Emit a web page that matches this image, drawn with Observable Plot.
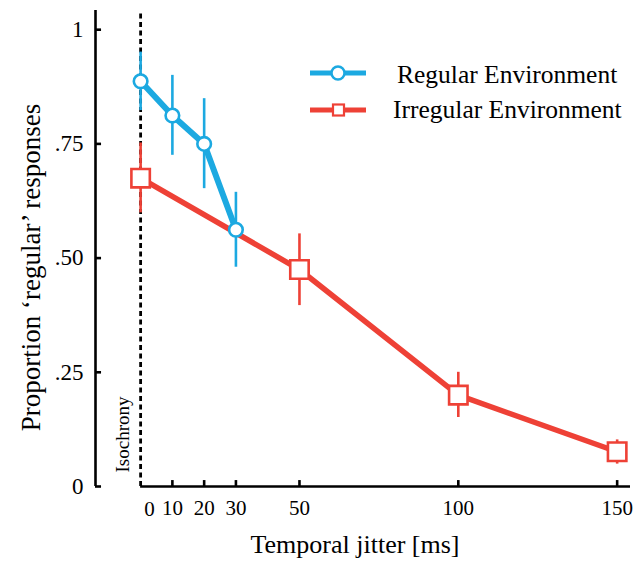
<!DOCTYPE html>
<html>
<head>
<meta charset="utf-8">
<script src="https://cdn.jsdelivr.net/npm/d3@7"></script>
<script src="https://cdn.jsdelivr.net/npm/@observablehq/plot@0.6"></script>
<style>
  html, body { margin: 0; padding: 0; background: #fff; }
  #chart { width: 641px; height: 581px; }
</style>
</head>
<body>
<div id="chart"></div>
<script>
// ---- data ----
const regularX  = [0, 10, 20, 30];
const regularY  = [0.887, 0.812, 0.750, 0.562];
const regularLo = [0.823, 0.725, 0.652, 0.480];
const regularHi = [0.951, 0.900, 0.849, 0.644];

const irregularX  = [0, 50, 100, 150];
const irregularY  = [0.675, 0.475, 0.200, 0.076];
const irregularLo = [0.599, 0.396, 0.151, 0.049];
const irregularHi = [0.752, 0.553, 0.250, 0.102];

const xTickValues = [10, 20, 30, 50, 100, 150];
const xZeroLabel = "0";
const yTickValues = [0, 0.25, 0.5, 0.75, 1];
const yTickLabels = ["0", ".25", ".50", ".75", "1"];

const seriesNames = ["Regular Environment", "Irregular Environment"];
const xTitle = "Temporal jitter [ms]";
const yTitle = "Proportion \u2018regular\u2019 responses";
const isoLabel = "Isochrony";

// ---- style ----
const BLUE = "#1ca9e1";
const RED = "#ee4136";
const FONT = "Liberation Serif, Times New Roman, serif";

const regular = regularX.map((x, i) => ({x, y: regularY[i], lo: regularLo[i], hi: regularHi[i]}));
const irregular = irregularX.map((x, i) => ({x, y: irregularY[i], lo: irregularLo[i], hi: irregularHi[i]}));

const xDomain = [-14.2, 154.2];
const yDomain = [0, 1.042];

const chart = Plot.plot({
  width: 641,
  height: 581,
  marginLeft: 95,
  marginRight: 11,
  marginTop: 10,
  marginBottom: 95,
  style: {fontFamily: FONT, background: "#fff", color: "#000"},
  x: {domain: xDomain},
  y: {domain: yDomain},
  marks: [
    // axes lines
    Plot.ruleX([xDomain[0]], {y1: 0, y2: yDomain[1], stroke: "#000", strokeWidth: 2.6}),
    Plot.ruleY([0], {x1: 0, x2: xDomain[1], stroke: "#000", strokeWidth: 2.6}),
    Plot.ruleY(yTickValues, {x1: xDomain[0], x2: xDomain[0] + 1.9, stroke: "#000", strokeWidth: 2.6}),
    Plot.ruleX(xTickValues, {y1: 0, y2: 0.013, stroke: "#000", strokeWidth: 2.6}),
    Plot.axisY({ticks: yTickValues, tickFormat: (d, i) => yTickLabels[i], tickSize: 0, tickPadding: 12, fontSize: 23, label: null}),
    Plot.axisX({ticks: xTickValues, tickSize: 0, tickPadding: 14, fontSize: 21, label: null}),
    Plot.text([xZeroLabel], {x: 0, y: 0, dx: 9, dy: 23, fontSize: 21}),
    // isochrony dashed line
    Plot.ruleX([0], {y1: 0, y2: yDomain[1], stroke: "#000", strokeWidth: 2.8, strokeDasharray: "5,3.5"}),
    Plot.text([isoLabel], {x: 0, y: 0, dx: -18, dy: -52, rotate: -90, fontSize: 19}),
    // titles
    Plot.text([yTitle], {frameAnchor: "left", textAnchor: "middle", dx: -64, dy: 19, rotate: -90, fontSize: 27}),
    Plot.text([xTitle], {frameAnchor: "bottom", dx: -8, dy: 66, fontSize: 26}),
    // irregular
    Plot.ruleX(irregular, {x: "x", y1: "lo", y2: "hi", stroke: RED, strokeWidth: 2.6}),
    Plot.line(irregular, {x: "x", y: "y", stroke: RED, strokeWidth: 5.5}),
    Plot.dot(irregular, {x: "x", y: "y", symbol: "square", r: 10.4, fill: "#fff", stroke: RED, strokeWidth: 2.6}),
    // regular
    Plot.ruleX(regular, {x: "x", y1: "lo", y2: "hi", stroke: BLUE, strokeWidth: 2.6}),
    Plot.line(regular, {x: "x", y: "y", stroke: BLUE, strokeWidth: 6}),
    Plot.dot(regular, {x: "x", y: "y", r: 6.8, fill: "#fff", stroke: BLUE, strokeWidth: 2.6})
  ]
});

document.getElementById("chart").appendChild(chart);

// ---- legend (inside the svg, top right) ----
const svg = d3.select(chart);
const lg = svg.append("g").attr("font-family", FONT).attr("text-anchor", "start");
const legendItems = [
  {name: seriesNames[0], color: BLUE, shape: "circle", y: 73, tx: 397, ty: 74},
  {name: seriesNames[1], color: RED, shape: "square", y: 110, tx: 393, ty: 109}
];
legendItems.forEach(it => {
  lg.append("line").attr("x1", 310).attr("x2", 366).attr("y1", it.y).attr("y2", it.y)
    .attr("stroke", it.color).attr("stroke-width", 5);
  if (it.shape === "circle") {
    lg.append("circle").attr("cx", 338).attr("cy", it.y).attr("r", 6.5)
      .attr("fill", "#fff").attr("stroke", it.color).attr("stroke-width", 2.5);
  } else {
    lg.append("rect").attr("x", 333).attr("y", it.y - 5.5).attr("width", 11).attr("height", 11)
      .attr("fill", "#fff").attr("stroke", it.color).attr("stroke-width", 2.2);
  }
  lg.append("text").attr("x", it.tx).attr("y", it.ty).attr("dy", "0.35em")
    .attr("font-size", 25.5).attr("fill", "#000").text(it.name);
});
</script>
</body>
</html>
